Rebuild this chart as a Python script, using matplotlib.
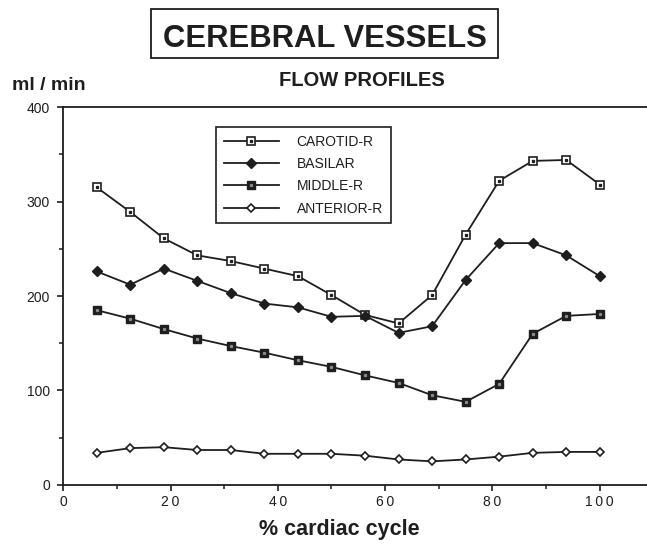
import matplotlib
matplotlib.use("Agg")
import matplotlib.pyplot as plt
from matplotlib.patches import Rectangle
from matplotlib.ticker import MultipleLocator

###################################
# Data

cycle = [6.25, 12.5, 18.75, 25, 31.25, 37.5, 43.75, 50,
         56.25, 62.5, 68.75, 75, 81.25, 87.5, 93.75, 100]

carotid = [315, 289, 261, 243, 237, 229, 221, 201,
           180, 171, 201, 265, 322, 343, 344, 318]
basilar = [226, 212, 229, 216, 203, 192, 188, 178,
           179, 161, 168, 217, 256, 256, 243, 221]
middle = [185, 176, 165, 155, 147, 140, 132, 125,
          116, 108, 95, 88, 107, 160, 179, 181]
anterior = [34, 39, 40, 37, 37, 33, 33, 33,
            31, 27, 25, 27, 30, 34, 35, 35]

labels = ['CAROTID-R', 'BASILAR', 'MIDDLE-R', 'ANTERIOR-R']
xticks = [0, 20, 40, 60, 80, 100]
yticks = [0, 100, 200, 300, 400]

ink = '#1e1e1e'
plt.rcParams['font.family'] = ['Liberation Sans', 'DejaVu Sans']

###################################
# Figure and axes

fig = plt.figure(figsize=(6.47, 5.44), dpi=100)
ax = fig.add_axes([0.0977, 0.1085, 0.9023, 0.6947])

# main lines with markers, plus small centre dots for the square markers
l1, = ax.plot(cycle, carotid, color=ink, lw=1.3, marker='s', ms=5.5,
              mfc='white', mec=ink, mew=1.2)
d1, = ax.plot(cycle, carotid, ls='none', marker='s', ms=1.4, color=ink)
l2, = ax.plot(cycle, basilar, color=ink, lw=1.3, marker='D', ms=5,
              mfc=ink, mec=ink)
l3, = ax.plot(cycle, middle, color=ink, lw=1.3, marker='s', ms=5.5,
              mfc=ink, mec=ink)
d3, = ax.plot(cycle, middle, ls='none', marker='s', ms=1.3, color='#8a8a8a')
l4, = ax.plot(cycle, anterior, color=ink, lw=1.3, marker='D', ms=4.3,
              mfc='white', mec=ink, mew=1.2)

ax.set_xlim(0, 108.8)
ax.set_ylim(0, 400)
ax.set_xticks(xticks)
ax.set_yticks(yticks)
ax.xaxis.set_minor_locator(MultipleLocator(10))
ax.yaxis.set_minor_locator(MultipleLocator(50))
ax.set_xticklabels(['\u2009'.join(str(t)) for t in xticks])

ax.spines['right'].set_visible(False)
for s in ['top', 'left', 'bottom']:
    ax.spines[s].set_color(ink)
    ax.spines[s].set_linewidth(1.3)
ax.tick_params(which='major', direction='out', length=4.5, width=1.2,
               color=ink, labelcolor=ink, labelsize=10, pad=5)
ax.tick_params(which='minor', direction='out', length=3, width=1.1, color=ink)
ax.tick_params(axis='x', which='major', pad=2.5)

# legend
leg = ax.legend([(l1, d1), l2, (l3, d3), l4], labels,
                loc='upper left', bbox_to_anchor=(0.334, 0.7665),
                bbox_transform=fig.transFigure, borderaxespad=0,
                numpoints=1, handlelength=3.95, handletextpad=1.3,
                labelspacing=0.6, fontsize=10, fancybox=False,
                edgecolor=ink, framealpha=1, borderpad=0.55)
leg.get_frame().set_linewidth(1.2)
for t in leg.get_texts():
    t.set_color(ink)

###################################
# Titles

fig.patches.append(Rectangle((0.2334, 0.8934), 0.5363, 0.0901,
                             transform=fig.transFigure, fill=False,
                             ec=ink, lw=1.3))
fig.text(0.5015, 0.9142, 'CEREBRAL VESSELS', ha='center', va='baseline',
         fontsize=22.3, fontweight='bold', color=ink)
fig.text(0.5595, 0.8419, 'FLOW PROFILES', ha='center', va='baseline',
         fontsize=14.5, fontweight='bold', color=ink)
fig.text(0.0185, 0.8346, 'ml / min', ha='left', va='baseline',
         fontsize=14, fontweight='bold', color=ink)
fig.text(0.524, 0.016, '% cardiac cycle', ha='center', va='baseline',
         fontsize=15.5, fontweight='bold', color=ink)

fig.savefig('out.png', dpi=100)
